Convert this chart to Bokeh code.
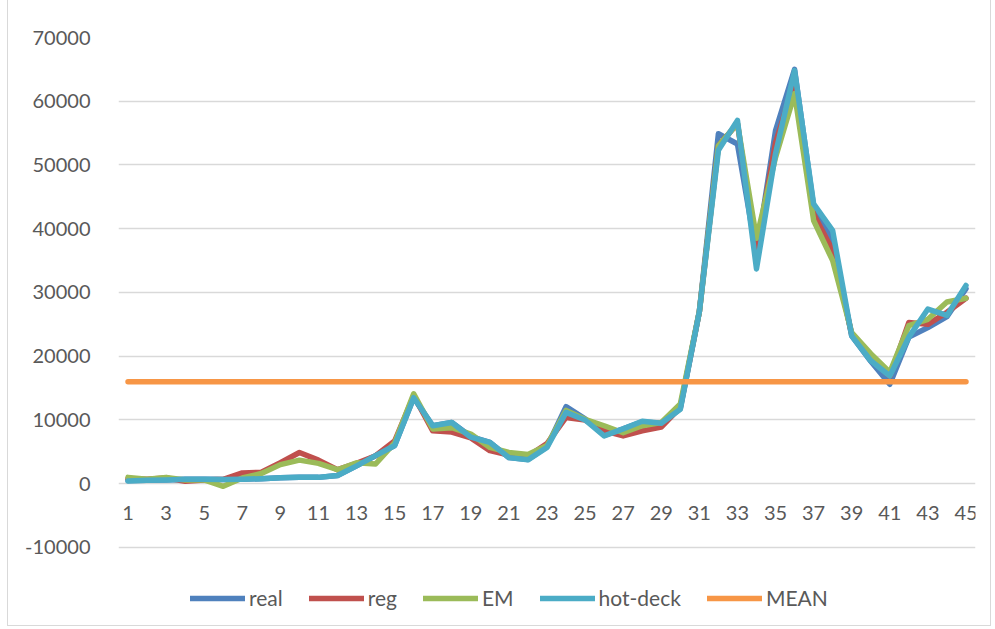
from bokeh.plotting import figure
from bokeh.models import FixedTicker, Legend, LegendItem, ColumnDataSource, Range1d
from bokeh.embed import file_html
from bokeh.resources import INLINE
from bokeh.core.properties import value

# observation index
idx = list(range(1, 46))

real = [500, 550, 600, 700, 700, 650, 700, 800, 950, 1000,
        1000, 1300, 2800, 4400, 6000, 13500, 9100, 9600, 7400, 6500,
        4100, 3800, 5800, 12100, 10200, 7600, 8600, 9700, 9500, 11800,
        27000, 54900, 53300, 36000, 55400, 65000, 43500, 38100, 23200, 19200,
        15600, 23000, 24500, 26200, 30600]

reg = [800, 700, 900, 400, 600, 700, 1700, 1800, 3300, 4900,
       3700, 2200, 3200, 4400, 6700, 13800, 8300, 8100, 7200, 5200,
       4500, 4300, 6300, 10400, 10000, 8300, 7500, 8300, 8900, 12000,
       27000, 53000, 56500, 36500, 53500, 63000, 42300, 36600, 23500, 19800,
       16800, 25300, 25000, 26900, 29100]

em = [1000, 700, 1000, 600, 600, -400, 900, 1600, 3000, 3700,
      3200, 2200, 3300, 3100, 6400, 14100, 8600, 8800, 7800, 5700,
      4900, 4600, 6000, 11500, 10100, 9100, 8000, 9100, 9600, 12500,
      27000, 53000, 56500, 38500, 51200, 61200, 41300, 35000, 23700, 20400,
      17500, 24800, 25800, 28500, 29100]

hot_deck = [450, 550, 600, 700, 700, 650, 700, 800, 950, 1000,
            1000, 1300, 2800, 4400, 6000, 13500, 9100, 9600, 7300, 6500,
            4100, 3750, 5700, 11200, 10000, 7500, 8600, 9800, 9500, 11700,
            27000, 52300, 57000, 33700, 51800, 64800, 43900, 39700, 23200, 19300,
            16900, 23000, 27400, 26400, 31100]

mean = [16000, 16000, 16000, 16000, 16000, 16000, 16000, 16000, 16000, 16000,
        16000, 16000, 16000, 16000, 16000, 16000, 16000, 16000, 16000, 16000,
        16000, 16000, 16000, 16000, 16000, 16000, 16000, 16000, 16000, 16000,
        16000, 16000, 16000, 16000, 16000, 16000, 16000, 16000, 16000, 16000,
        16000, 16000, 16000, 16000, 16000]

series_names = ["real", "reg", "EM", "hot-deck", "MEAN"]
series_colors = ["#4F81BD", "#C0504D", "#9BBB59", "#4BACC6", "#F79646"]
x_ticks = [1, 3, 5, 7, 9, 11, 13, 15, 17, 19, 21, 23, 25, 27, 29, 31, 33, 35, 37, 39, 41, 43, 45]
x_tick_labels = [str(t) for t in x_ticks]
y_ticks = [-10000, 0, 10000, 20000, 30000, 40000, 50000, 60000, 70000]

FONT = "Lato"
TEXT_COLOR = "#595959"
GRID_COLOR = "#D9D9D9"

source = ColumnDataSource(dict(x=idx, real=real, reg=reg, em=em, hot=hot_deck, mean=mean))

# the frame runs on below -10000 so that the legend can sit inside it
p = figure(width=982, height=625, output_backend="svg", toolbar_location=None,
           x_range=Range1d(0.5, 45.5), y_range=Range1d(-21608, 70000),
           min_border_left=110, min_border_right=15, min_border_top=37,
           min_border_bottom=4)
p.margin = (0, 0, 0, 8)
p.styles = {"outline": "1px solid #D9D9D9"}
p.outline_line_color = None
p.background_fill_color = "white"
p.border_fill_color = "white"

# category labels sit just under the zero line
p.xaxis.visible = False
p.xgrid.visible = False
label_src = ColumnDataSource(dict(x=x_ticks, y=[0] * len(x_ticks), text=x_tick_labels))
p.text("x", "y", text="text", source=label_src, y_offset=29,
       text_align="center", text_baseline="middle",
       text_font=value(FONT), text_font_size="20px", text_color=TEXT_COLOR)

p.yaxis.ticker = FixedTicker(ticks=y_ticks)
p.yaxis.major_label_overrides = {-10000: "-10000"}
p.yaxis.axis_line_color = None
p.yaxis.major_tick_line_color = None
p.yaxis.minor_tick_line_color = None
p.yaxis.major_label_standoff = 22
p.yaxis.major_label_text_font = FONT
p.yaxis.major_label_text_font_size = "20px"
p.yaxis.major_label_text_color = TEXT_COLOR

p.ygrid.ticker = FixedTicker(ticks=y_ticks)
p.ygrid.grid_line_color = GRID_COLOR
p.ygrid.grid_line_width = 1.5

renderers = []
for col, color in zip(["real", "reg", "em", "hot", "mean"], series_colors):
    r = p.line("x", col, source=source, line_color=color, line_width=5.5,
               line_cap="round", line_join="round")
    renderers.append(r)

legend = Legend(items=[LegendItem(label=n, renderers=[r]) for n, r in zip(series_names, renderers)],
                orientation="horizontal", location=(72, 11),
                glyph_width=55, glyph_height=22, label_standoff=4, spacing=26,
                padding=0, margin=0, border_line_color=None, background_fill_alpha=0,
                label_text_font=FONT, label_text_font_size="21px",
                label_text_color=TEXT_COLOR)
p.add_layout(legend, "center")

open("out.html", "w").write(file_html(p, INLINE))
